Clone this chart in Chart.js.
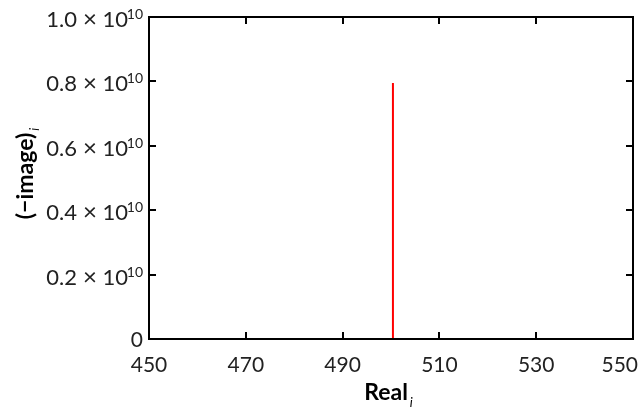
<!DOCTYPE html>
<html>
<head>
<meta charset="utf-8">
<script src="https://cdn.jsdelivr.net/npm/chart.js@4.4.1/dist/chart.umd.min.js"></script>
<style>
  html, body { margin: 0; padding: 0; background: #fff; }
  #wrap { width: 644px; height: 410px; }
</style>
</head>
<body>
<div id="wrap"><canvas id="specChart"></canvas></div>
<script>
// ===== DATOS =====
const peakX = [500.4, 500.4];
const peakY = [0, 0.795e10];
const xTickLabels = [450, 470, 490, 510, 530, 550];
const xMinorTicks = [470, 490, 510, 530];
const yTickValues = [0, 0.2e10, 0.4e10, 0.6e10, 0.8e10, 1.0e10];
const yTickMantissa = ['0', '0.2', '0.4', '0.6', '0.8', '1.0'];

const FONT = "Lato, 'Open Sans', sans-serif";

// ===== PLUGIN: marco, ticks hacia dentro y etiquetas =====
const framePlugin = {
    id: 'frame',
    afterDraw(chart) {
        const c = chart.ctx;
        const a = chart.chartArea;
        const xs = chart.scales.x;
        const ys = chart.scales.y;
        c.save();
        c.strokeStyle = '#000';
        c.lineWidth = 2;
        c.strokeRect(a.left, a.top, a.right - a.left, a.bottom - a.top);

        // ticks hacia dentro
        const len = 7;
        c.beginPath();
        xMinorTicks.forEach(v => {
            const px = Math.round(xs.getPixelForValue(v));
            c.moveTo(px, a.bottom); c.lineTo(px, a.bottom - len);
            c.moveTo(px, a.top); c.lineTo(px, a.top + len);
        });
        yTickValues.slice(1, -1).forEach(v => {
            const py = Math.round(ys.getPixelForValue(v));
            c.moveTo(a.left, py); c.lineTo(a.left + len, py);
            c.moveTo(a.right, py); c.lineTo(a.right - len, py);
        });
        c.stroke();

        c.fillStyle = '#222';
        // etiquetas eje x
        c.font = '21px ' + FONT;
        c.textAlign = 'center';
        c.textBaseline = 'alphabetic';
        xTickLabels.forEach(v => {
            const w = c.measureText(String(v)).width;
            const px = Math.min(xs.getPixelForValue(v), chart.width - 6 - w / 2);
            c.fillText(String(v), px, 372);
        });

        // etiquetas eje y
        const R = a.left - 6;
        yTickValues.forEach((v, i) => {
            const py = ys.getPixelForValue(v);
            c.textBaseline = 'alphabetic';
            c.textAlign = 'right';
            if (i === 0) {
                c.font = '21px ' + FONT;
                c.fillText('0', R, py + 8);
                return;
            }
            c.font = '14px ' + FONT;
            c.fillText('10', R, py + 2);
            c.font = '22px ' + FONT;
            c.fillText('10', R - 15, py + 10);
            c.fillText(yTickMantissa[i], R - 66, py + 10);
            c.textAlign = 'center';
            c.font = '24px ' + FONT;
            c.fillText('\u00d7', R - 53, py + 10);
        });

        // título eje x
        c.fillStyle = '#000';
        c.font = 'bold 23px ' + FONT;
        c.textAlign = 'center';
        c.textBaseline = 'alphabetic';
        const cx = 386;
        const tw = c.measureText('Real').width;
        c.fillText('Real', cx, 400);
        c.font = 'italic 13px ' + FONT;
        c.textAlign = 'left';
        c.fillText('i', cx + tw / 2 + 2, 407);

        // título eje y
        c.save();
        c.translate(33, 176);
        c.rotate(-Math.PI / 2);
        c.font = 'bold 23px ' + FONT;
        c.textAlign = 'center';
        const yw = c.measureText('(\u2212image)').width;
        c.fillText('(\u2212image)', 0, 0);
        c.font = 'italic 13px ' + FONT;
        c.textAlign = 'left';
        c.fillText('i', yw / 2 + 2, 6);
        c.restore();

        c.restore();
    }
};

// ===== GRÁFICO =====
new Chart(document.getElementById('specChart'), {
    type: 'scatter',
    data: {
        datasets: [{
            data: peakX.map((x, i) => ({ x: x, y: peakY[i] })),
            showLine: true,
            borderColor: '#ff0000',
            borderWidth: 2,
            pointRadius: 0
        }]
    },
    options: {
        responsive: true,
        maintainAspectRatio: false,
        animation: false,
        layout: { padding: { left: 149, right: 11, top: 17, bottom: 71 } },
        plugins: { legend: { display: false }, tooltip: { enabled: false } },
        scales: {
            x: { type: 'linear', min: 450, max: 550, display: false },
            y: { type: 'linear', min: 0, max: 1.0e10, display: false }
        }
    },
    plugins: [framePlugin]
});
</script>
</body>
</html>
